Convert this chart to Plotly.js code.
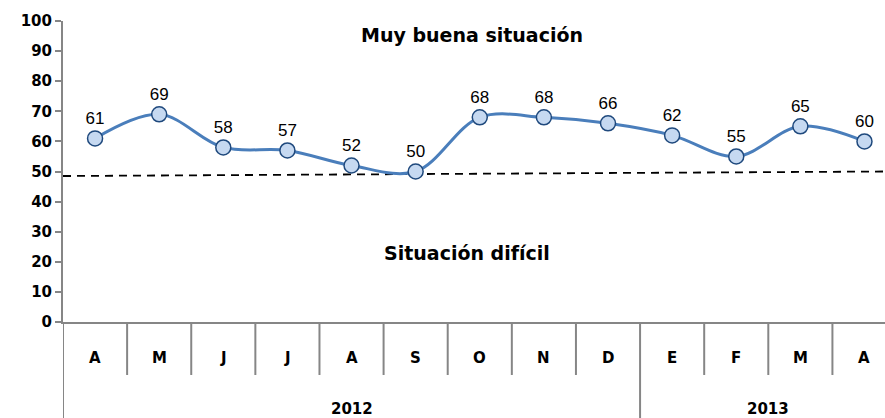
<!DOCTYPE html>
<html>
<head>
<meta charset="utf-8">
<script src="https://cdn.plot.ly/plotly-3.0.1.min.js"></script>
<style>
  html, body { margin: 0; padding: 0; background: #fff; }
  #chart { width: 885px; height: 418px; }
</style>
</head>
<body>
<div id="chart"></div>
<script>
const months = ['A', 'M', 'J', 'J', 'A', 'S', 'O', 'N', 'D', 'E', 'F', 'M', 'A'];
const values = [61, 69, 58, 57, 52, 50, 68, 68, 66, 62, 55, 65, 60];
const years = ['2012', '2013'];
const yearStart = [0, 9];   // first month index of each year
const yearEnd = [8, 12];    // last month index of each year
const thresholdY = [48.5, 50];
const yTicks = [0, 10, 20, 30, 40, 50, 60, 70, 80, 90, 100];
const topLabel = 'Muy buena situación';
const bottomLabel = 'Situación difícil';

const idx = months.map((m, i) => i);
const axisGray = '#868686';
const fontFam = 'Liberation Sans, Arial, sans-serif';
const boldFam = 'DejaVu Sans, Liberation Sans, sans-serif';
// last category is cut by the right edge, as in the original
const xMax = 12.32;

var lineTrace = {
    x: idx,
    y: values,
    type: 'scatter',
    mode: 'lines+markers+text',
    line: { color: '#4a7ebb', width: 3, shape: 'spline', smoothing: 1 },
    marker: { size: 15, color: '#c6d9f1', line: { color: '#1f497d', width: 1.5 } },
    text: values.map(String),
    textposition: 'top center',
    textfont: { family: fontFam, size: 17, color: '#000' },
    cliponaxis: false,
    hoverinfo: 'none'
};

var dashTrace = {
    x: [-0.5, xMax],
    y: thresholdY,
    type: 'scatter',
    mode: 'lines',
    line: { color: '#000', width: 1.8, dash: '8px,6px' },
    hoverinfo: 'none'
};

const rowBottom = -0.176;
const tableBottom = -0.33;

var shapes = [];
// separators between months
for (let i = 1; i < months.length; i++) {
    const isYearEdge = yearStart.includes(i);
    shapes.push({
        type: 'line', xref: 'x', yref: 'paper',
        x0: i - 0.5, x1: i - 0.5, y0: 0, y1: isYearEdge ? tableBottom : rowBottom,
        line: { color: axisGray, width: 2 }
    });
}
// left axis extension down through the table
shapes.push({
    type: 'line', xref: 'x', yref: 'paper',
    x0: -0.5, x1: -0.5, y0: 0, y1: tableBottom,
    line: { color: axisGray, width: 2 }
});

var annotations = months.map((m, i) => ({
    x: i, y: -0.12, xref: 'x', yref: 'paper', yanchor: 'middle',
    text: '<b>' + m + '</b>', showarrow: false,
    font: { family: boldFam, size: 15, color: '#000' }
}));
years.forEach((yr, k) => {
    annotations.push({
        x: (yearStart[k] + yearEnd[k]) / 2, y: -0.29,
        xref: 'x', yref: 'paper', yanchor: 'middle',
        text: '<b>' + yr + '</b>', showarrow: false,
        font: { family: boldFam, size: 15, color: '#000' }
    });
});
annotations.push({
    x: 0.497, y: 0.955, xref: 'paper', yref: 'paper', yanchor: 'middle',
    text: '<b>' + topLabel + '</b>', showarrow: false,
    font: { family: boldFam, size: 19, color: '#000' }
});
annotations.push({
    x: 0.492, y: 0.23, xref: 'paper', yref: 'paper', yanchor: 'middle',
    text: '<b>' + bottomLabel + '</b>', showarrow: false,
    font: { family: boldFam, size: 19, color: '#000' }
});

var layout = {
    width: 885,
    height: 418,
    margin: { l: 63, r: 0, t: 21, b: 96 },
    paper_bgcolor: '#fff',
    plot_bgcolor: '#fff',
    showlegend: false,
    font: { family: fontFam, color: '#000' },
    xaxis: {
        range: [-0.5, xMax],
        showticklabels: false,
        ticks: '',
        showgrid: false,
        zeroline: false,
        showline: true,
        linecolor: axisGray,
        linewidth: 2
    },
    yaxis: {
        range: [0, 100],
        tickmode: 'array',
        tickvals: yTicks,
        ticktext: yTicks.map(v => '<b>' + v + '</b>'),
        ticks: 'outside',
        ticklen: 6,
        tickwidth: 2,
        tickcolor: axisGray,
        showgrid: false,
        zeroline: false,
        showline: true,
        linecolor: axisGray,
        linewidth: 2,
        tickfont: { family: boldFam, size: 15, color: '#000' }
    },
    shapes: shapes,
    annotations: annotations
};

Plotly.newPlot('chart', [dashTrace, lineTrace], layout, { staticPlot: true });
</script>
</body>
</html>
